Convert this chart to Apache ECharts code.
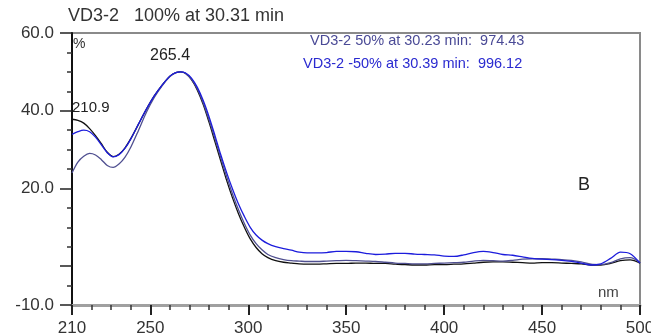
<!DOCTYPE html>
<html>
<head>
	<meta charset="utf-8">
	<title>VD3-2 UV spectrum</title>
	<script type="text/javascript" src="https://cdn.jsdelivr.net/npm/echarts@6.0.0/dist/echarts.min.js"></script>
	<style>
		html, body { margin: 0; padding: 0; background: #fff; }
		#main { width: 651px; height: 333px; }
	</style>
</head>
<body>
	<div id="main"></div>
	<script type="text/javascript">
		// wavelength (nm)
		var wavelengths = [210, 213, 216, 219, 222, 225, 228, 231, 234, 237, 240, 244, 248, 252, 256, 260, 263, 265.4, 268, 271,
			274, 277, 280, 283, 286, 289, 292, 295, 298, 301, 304, 307, 310, 314, 318, 322, 326, 330, 335, 340,
			345, 350, 355, 360, 365, 370, 375, 380, 385, 390, 395, 400, 405, 410, 415, 420, 425, 430, 435, 440,
			445, 450, 455, 460, 465, 470, 475, 480, 485, 490, 495, 500];

		// VD3-2 100% at 30.31 min (black)
		var spec100 = [37.8, 37.5, 36.8, 35.4, 33.6, 31.5, 29.3, 28.2, 28.8, 30.4, 32.8, 36.6, 40.4, 43.8, 46.6, 48.9, 49.8, 50.0, 49.6, 48.0,
			45.3, 41.6, 37.0, 32.0, 27.0, 22.0, 17.5, 13.5, 10.0, 7.0, 4.8, 3.2, 2.2, 1.4, 1.0, 0.8, 0.6, 0.5, 0.5, 0.6,
			0.7, 0.7, 0.8, 0.8, 0.7, 0.7, 0.5, 0.4, 0.3, 0.3, 0.4, 0.4, 0.5, 0.6, 0.8, 1.0, 1.1, 1.1, 1.0, 0.9,
			0.8, 0.9, 0.9, 0.8, 0.7, 0.6, 0.3, 0.3, 0.7, 1.4, 1.6, 0.8];

		// VD3-2 50% at 30.23 min (grey-blue)
		var spec50 = [24.0, 26.8, 28.3, 29.0, 28.6, 27.4, 25.9, 25.4, 26.3, 28.0, 30.6, 35.0, 39.6, 43.4, 46.4, 48.8, 49.8, 50.0, 49.6, 48.1,
			45.6, 42.0, 37.6, 32.8, 27.8, 23.0, 18.5, 14.5, 11.0, 8.0, 5.8, 4.2, 3.0, 2.2, 1.7, 1.4, 1.3, 1.2, 1.2, 1.3,
			1.4, 1.5, 1.4, 1.3, 1.2, 1.0, 0.8, 0.7, 0.6, 0.6, 0.7, 0.8, 0.9, 1.0, 1.3, 1.5, 1.4, 1.3, 1.5, 1.8,
			1.9, 1.9, 1.8, 1.7, 1.5, 1.1, 0.5, 0.4, 0.9, 1.9, 2.2, 0.9];

		// VD3-2 -50% at 30.39 min (blue)
		var specM50 = [33.9, 34.6, 35.0, 34.6, 33.2, 31.2, 29.2, 28.1, 28.7, 30.3, 32.7, 36.6, 40.4, 43.8, 46.6, 48.9, 49.8, 50.0, 49.7, 48.4,
			46.0, 42.6, 38.4, 33.6, 28.6, 24.0, 19.8, 16.0, 12.8, 10.0, 8.0, 6.7, 5.8, 5.0, 4.5, 4.1, 3.6, 3.4, 3.4, 3.5,
			3.8, 3.8, 3.7, 3.3, 3.0, 3.1, 3.3, 3.3, 3.1, 3.0, 2.9, 2.6, 2.5, 2.9, 3.5, 3.8, 3.5, 3.0, 2.8, 2.4,
			2.0, 1.8, 1.7, 1.5, 1.2, 0.8, 0.3, 0.6, 2.0, 3.6, 3.2, 0.8];

		// axis ticks / labels
		var xMajor = [210, 250, 300, 350, 400, 450, 500];
		var xMinor = [220, 230, 240, 260, 270, 280, 290, 310, 320, 330, 340, 360, 370, 380, 390,
			410, 420, 430, 440, 460, 470, 480, 490];
		var yMajor = [60, 40, 20, 0, -10];
		var yLabels = [60, 40, 20, -10];
		var yMinor = [55, 50, 45, 35, 30, 25, 15, 10, 5, -5];

		function pairs(ys) {
			return wavelengths.map(function (w, i) { return [w, ys[i]]; });
		}

		var font = '"Liberation Sans", Arial, sans-serif';
		var myChart = echarts.init(document.getElementById('main'));

		var option = {
			animation: false,
			grid: {
				left: 72, right: 11, top: 33, bottom: 28,
				outerBoundsMode: 'none',
				containLabel: false,
				show: true,
				borderColor: '#8a8a8a',
				borderWidth: 2
			},
			xAxis: [{
				type: 'value',
				min: 210, max: 500,
				position: 'bottom',
				axisLine: { onZero: false, lineStyle: { color: '#a0a0a0', width: 3 } },
				axisTick: { customValues: xMajor, length: 10, lineStyle: { color: '#222', width: 2 } },
				axisLabel: {
					customValues: xMajor, margin: 15,
					color: '#333', fontSize: 17, fontFamily: font
				},
				splitLine: { show: false }
			}, {
				type: 'value',
				min: 210, max: 500,
				position: 'bottom',
				axisLine: { show: false, onZero: false },
				axisTick: { customValues: xMinor, length: 5, lineStyle: { color: '#333', width: 1.5 } },
				axisLabel: { show: false },
				splitLine: { show: false }
			}],
			yAxis: [{
				type: 'value',
				min: -10, max: 60,
				position: 'left',
				axisLine: { show: true, onZero: false, lineStyle: { color: '#111', width: 2 } },
				axisTick: { show: true, customValues: yMajor, length: 12, lineStyle: { color: '#222', width: 1.5 } },
				axisLabel: {
					customValues: yLabels, margin: 18,
					color: '#333', fontSize: 17, fontFamily: font,
					formatter: function (v) { return v.toFixed(1); }
				},
				splitLine: { show: false }
			}, {
				type: 'value',
				min: -10, max: 60,
				position: 'left',
				axisLine: { show: false, onZero: false },
				axisTick: { show: true, customValues: yMinor, length: 5, lineStyle: { color: '#333', width: 1.5 } },
				axisLabel: { show: false },
				splitLine: { show: false }
			}],
			graphic: [
				{ type: 'text', left: 68, top: 7, style: { text: 'VD3-2   100% at 30.31 min', fill: '#333', font: '18px ' + font } },
				{ type: 'text', left: 73, top: 37, style: { text: '%', fill: '#333', font: '14px ' + font } },
				{ type: 'text', left: 598, top: 285, style: { text: 'nm', fill: '#444', font: '15px ' + font } },
				{ type: 'text', left: 578, top: 176, style: { text: 'B', fill: '#222', font: '18px ' + font } },
				{ type: 'text', left: 150, top: 48, style: { text: '265.4', fill: '#222', font: '16px ' + font } },
				{ type: 'text', left: 72, top: 100, style: { text: '210.9', fill: '#222', font: '15px ' + font } },
				{ type: 'text', left: 310, top: 33, style: { text: 'VD3-2 50% at 30.23 min:  974.43', fill: '#4a4a96', font: '14.5px ' + font } },
				{ type: 'text', left: 303, top: 56, style: { text: 'VD3-2 -50% at 30.39 min:  996.12', fill: '#2a2ad0', font: '14.5px ' + font } }
			],
			series: [{
				name: '100%',
				type: 'line',
				data: pairs(spec100),
				smooth: 0.3,
				showSymbol: false,
				lineStyle: { color: '#111', width: 1.3 }
			}, {
				name: '50%',
				type: 'line',
				data: pairs(spec50),
				smooth: 0.3,
				showSymbol: false,
				lineStyle: { color: '#4f4f90', width: 1.3 }
			}, {
				name: '-50%',
				type: 'line',
				data: pairs(specM50),
				smooth: 0.3,
				showSymbol: false,
				lineStyle: { color: '#1c1cdc', width: 1.3 }
			}]
		};

		myChart.setOption(option);
	</script>
</body>
</html>
